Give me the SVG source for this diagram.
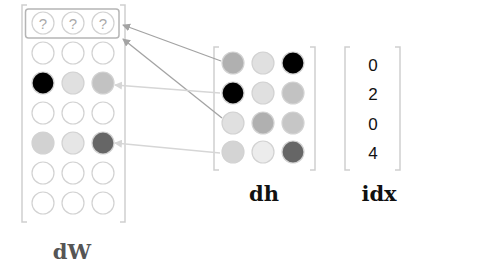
<svg xmlns="http://www.w3.org/2000/svg" width="484" height="273" viewBox="0 0 484 273">
<defs>
<style>
.br{fill:none;stroke:#cfcfcf;stroke-width:1.5}
.c{stroke:#d2d2d2;stroke-width:1.2}
.e{fill:#fff;stroke:#d2d2d2;stroke-width:1.2}
.q{font-family:"Liberation Sans",Arial,sans-serif;font-size:15px;fill:#aaa;text-anchor:middle}
.lab{font-family:"DejaVu Serif",serif;font-weight:bold;font-size:21px;text-anchor:middle}
.num{font-family:"Liberation Sans",Arial,sans-serif;font-size:17px;fill:#111;text-anchor:middle}
.a1{stroke:#a3a3a3;stroke-width:1.3;fill:none}
.a2{stroke:#d6d6d6;stroke-width:1.3;fill:none}
</style>
<marker id="m1" markerWidth="8" markerHeight="8" refX="7" refY="4" orient="auto" markerUnits="userSpaceOnUse"><path d="M0,0 L8,4 L0,8 Z" fill="#a3a3a3"/></marker>
<marker id="m2" markerWidth="8" markerHeight="8" refX="7" refY="4" orient="auto" markerUnits="userSpaceOnUse"><path d="M0,0 L8,4 L0,8 Z" fill="#d6d6d6"/></marker>
</defs>
<rect width="484" height="273" fill="#fff"/>
<g id="dW">
<path class="br" d="M27,5 H22 V222 H27"/>
<path class="br" d="M120,5 H125 V222 H120"/>
<rect x="25.5" y="9" width="93.5" height="29" rx="3" fill="none" stroke="#b5b5b5" stroke-width="1.5"/>
<circle class="e" cx="43" cy="23" r="11"/><circle class="e" cx="73" cy="23" r="11"/><circle class="e" cx="103" cy="23" r="11"/>
<text class="q" x="43" y="28.5">?</text><text class="q" x="73" y="28.5">?</text><text class="q" x="103" y="28.5">?</text>
<circle class="e" cx="43" cy="53" r="11"/><circle class="e" cx="73" cy="53" r="11"/><circle class="e" cx="103" cy="53" r="11"/>
<circle class="c" cx="43" cy="83" r="11" fill="#000"/><circle class="c" cx="73" cy="83" r="11" fill="#e0e0e0"/><circle class="c" cx="103" cy="83" r="11" fill="#c2c2c2"/>
<circle class="e" cx="43" cy="113" r="11"/><circle class="e" cx="73" cy="113" r="11"/><circle class="e" cx="103" cy="113" r="11"/>
<circle class="c" cx="43" cy="143" r="11" fill="#d2d2d2"/><circle class="c" cx="73" cy="143" r="11" fill="#e6e6e6"/><circle class="c" cx="103" cy="143" r="11" fill="#666"/>
<circle class="e" cx="43" cy="173" r="11"/><circle class="e" cx="73" cy="173" r="11"/><circle class="e" cx="103" cy="173" r="11"/>
<circle class="e" cx="43" cy="203" r="11"/><circle class="e" cx="73" cy="203" r="11"/><circle class="e" cx="103" cy="203" r="11"/>
<text class="lab" x="72" y="259" fill="#555">dW</text>
</g>
<g id="dh">
<path class="br" d="M219,47 H214 V170 H219"/>
<path class="br" d="M310,47 H315 V170 H310"/>
<circle class="c" cx="233" cy="63" r="11" fill="#b0b0b0"/><circle class="c" cx="263" cy="63" r="11" fill="#e0e0e0"/><circle class="c" cx="293" cy="63" r="11" fill="#000"/>
<circle class="c" cx="233" cy="93" r="11" fill="#000"/><circle class="c" cx="263" cy="93" r="11" fill="#e0e0e0"/><circle class="c" cx="293" cy="93" r="11" fill="#c2c2c2"/>
<circle class="c" cx="233" cy="123" r="11" fill="#e0e0e0"/><circle class="c" cx="263" cy="123" r="11" fill="#b0b0b0"/><circle class="c" cx="293" cy="123" r="11" fill="#c6c6c6"/>
<circle class="c" cx="233" cy="152" r="11" fill="#d4d4d4"/><circle class="c" cx="263" cy="152" r="11" fill="#ececec"/><circle class="c" cx="293" cy="152" r="11" fill="#666"/>
<text class="lab" x="264" y="201" fill="#111">dh</text>
</g>
<g id="idx">
<path class="br" d="M350,47 H345 V170 H350"/>
<path class="br" d="M395,47 H400 V170 H395"/>
<text class="num" x="373" y="71">0</text>
<text class="num" x="373" y="100">2</text>
<text class="num" x="373" y="130">0</text>
<text class="num" x="373" y="159">4</text>
<text class="lab" x="379" y="201" fill="#111">idx</text>
</g>
<g id="connectors">
<line class="a1" x1="221" y1="61" x2="123" y2="25" marker-end="url(#m1)"/>
<line class="a1" x1="222" y1="118" x2="123" y2="39" marker-end="url(#m1)"/>
<line class="a2" x1="220" y1="93" x2="115" y2="85" marker-end="url(#m2)"/>
<line class="a2" x1="220" y1="153" x2="115" y2="143" marker-end="url(#m2)"/>
</g>
</svg>
